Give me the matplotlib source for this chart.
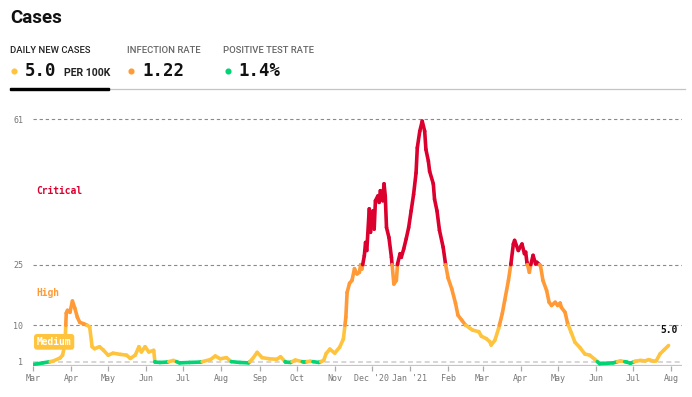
import matplotlib
matplotlib.use('Agg')
import matplotlib.pyplot as plt
import matplotlib.dates as mdates
from matplotlib.collections import LineCollection
from matplotlib.patches import Rectangle
from matplotlib.lines import Line2D
import numpy as np
from datetime import datetime

# daily new cases per 100k
dates = [
    '2020-03-01', '2020-03-09', '2020-03-17', '2020-03-23', '2020-03-25', '2020-03-27',
    '2020-03-28', '2020-03-29', '2020-03-31', '2020-04-02', '2020-04-04', '2020-04-06',
    '2020-04-08', '2020-04-11', '2020-04-14', '2020-04-16', '2020-04-18', '2020-04-20',
    '2020-04-24', '2020-04-27', '2020-05-01', '2020-05-05', '2020-05-11', '2020-05-16',
    '2020-05-19', '2020-05-23', '2020-05-26', '2020-05-28', '2020-05-31', '2020-06-03',
    '2020-06-07', '2020-06-08', '2020-06-12', '2020-06-18', '2020-06-23', '2020-06-28',
    '2020-07-06', '2020-07-15', '2020-07-23', '2020-07-27', '2020-07-31', '2020-08-05',
    '2020-08-09', '2020-08-16', '2020-08-23', '2020-08-26', '2020-08-30', '2020-09-03',
    '2020-09-09', '2020-09-15', '2020-09-18', '2020-09-22', '2020-09-26', '2020-09-30',
    '2020-10-07', '2020-10-12', '2020-10-19', '2020-10-23', '2020-10-25', '2020-10-28',
    '2020-11-01', '2020-11-05', '2020-11-08', '2020-11-10', '2020-11-11', '2020-11-13',
    '2020-11-15', '2020-11-17', '2020-11-19', '2020-11-21', '2020-11-22', '2020-11-23',
    '2020-11-25', '2020-11-26', '2020-11-27', '2020-11-29', '2020-11-30', '2020-12-02',
    '2020-12-03', '2020-12-04', '2020-12-06', '2020-12-07', '2020-12-08', '2020-12-10',
    '2020-12-11', '2020-12-12', '2020-12-13', '2020-12-15', '2020-12-17', '2020-12-19',
    '2020-12-21', '2020-12-22', '2020-12-24', '2020-12-25', '2020-12-27', '2020-12-29',
    '2020-12-31', '2021-01-02', '2021-01-04', '2021-01-06', '2021-01-07', '2021-01-09',
    '2021-01-11', '2021-01-13', '2021-01-14', '2021-01-16', '2021-01-17', '2021-01-20',
    '2021-01-21', '2021-01-23', '2021-01-25', '2021-01-28', '2021-01-30', '2021-02-01',
    '2021-02-04', '2021-02-07', '2021-02-09', '2021-02-12', '2021-02-15', '2021-02-19',
    '2021-02-21', '2021-02-26', '2021-02-28', '2021-03-04', '2021-03-07', '2021-03-08',
    '2021-03-11', '2021-03-14', '2021-03-17', '2021-03-19', '2021-03-22', '2021-03-24',
    '2021-03-26', '2021-03-27', '2021-03-30', '2021-04-02', '2021-04-04', '2021-04-05',
    '2021-04-06', '2021-04-08', '2021-04-09', '2021-04-11', '2021-04-13', '2021-04-14',
    '2021-04-17', '2021-04-19', '2021-04-22', '2021-04-24', '2021-04-26', '2021-04-29',
    '2021-05-01', '2021-05-03', '2021-05-04', '2021-05-07', '2021-05-09', '2021-05-12',
    '2021-05-15', '2021-05-19', '2021-05-23', '2021-05-27', '2021-05-31', '2021-06-04',
    '2021-06-10', '2021-06-15', '2021-06-21', '2021-06-26', '2021-06-29', '2021-07-03',
    '2021-07-07', '2021-07-11', '2021-07-14', '2021-07-18', '2021-07-20', '2021-07-23',
    '2021-07-26', '2021-07-30',
]
cases = [
    0.3, 0.7, 1.1, 1.9, 2.6, 5.5,
    13.0, 13.7, 13.2, 16.0, 14.2, 12.0,
    10.7, 10.4, 10.0, 9.6, 4.7, 4.2,
    4.7, 3.9, 2.6, 3.1, 2.8, 2.6,
    1.8, 2.6, 4.7, 3.4, 4.7, 3.4,
    3.8, 0.9, 0.8, 0.9, 1.3, 0.7,
    0.8, 0.9, 1.5, 2.4, 1.7, 2.0,
    1.0, 0.8, 0.7, 1.6, 3.3, 2.0,
    1.7, 1.6, 2.2, 0.9, 0.8, 1.4,
    0.9, 1.1, 0.8, 1.3, 3.0, 4.1,
    3.1, 4.6, 6.6, 12.0, 18.1, 20.4,
    21.1, 24.0, 22.7, 23.1, 25.0, 23.9,
    27.2, 30.5, 28.5, 38.8, 33.0, 38.3,
    33.8, 40.8, 42.0, 40.4, 43.3, 40.8,
    45.0, 42.0, 34.2, 31.7, 26.8, 20.2,
    21.1, 25.2, 27.7, 26.8, 28.9, 31.4,
    34.2, 38.3, 42.4, 47.7, 53.9, 58.0,
    60.5, 58.0, 53.5, 50.6, 48.1, 45.0,
    41.2, 38.3, 33.5, 29.3, 25.0, 21.7,
    19.0, 15.5, 12.5, 11.3, 10.1, 9.2,
    8.8, 8.4, 7.3, 6.7, 5.9, 5.1,
    6.3, 9.2, 12.9, 16.2, 21.1, 25.2,
    30.1, 31.0, 28.5, 30.1, 27.7, 28.1,
    25.6, 23.1, 24.8, 27.3, 25.2, 25.6,
    24.8, 21.1, 18.6, 15.7, 14.9, 15.7,
    14.9, 15.5, 14.4, 13.2, 10.5, 8.2,
    5.8, 4.5, 2.9, 2.6, 1.6, 0.5,
    0.6, 0.7, 1.2, 0.9, 0.6, 1.1,
    1.3, 1.2, 1.5, 1.1, 1.2, 2.9,
    3.8, 5.0,
]

levels = [1, 10, 25]
level_names = ['Low', 'Medium', 'High', 'Critical']
level_colors = ['#00d474', '#ffc43d', '#ff9a36', '#db002e']
grid_values = [1, 10, 25, 61]

month_ticks = ['2020-03-01', '2020-04-01', '2020-05-01', '2020-06-01', '2020-07-01',
               '2020-08-01', '2020-09-01', '2020-10-01', '2020-11-01', '2020-12-01',
               '2021-01-01', '2021-02-01', '2021-03-01', '2021-04-01', '2021-05-01',
               '2021-06-01', '2021-07-01', '2021-08-01']
month_labels = ['Mar', 'Apr', 'May', 'Jun', 'Jul', 'Aug', 'Sep', 'Oct', 'Nov', "Dec '20",
                "Jan '21", 'Feb', 'Mar', 'Apr', 'May', 'Jun', 'Jul', 'Aug']

W, H = 692, 397
MONO = 'DejaVu Sans Mono'
SANS = 'Roboto'


def fx(px):
    return px / W


def fy(py):
    return 1 - py / H


fig = plt.figure(figsize=(W / 100, H / 100), dpi=100)
fig.patch.set_facecolor('white')

# ---- header ----
fig.text(fx(10), fy(22.7), 'Cases', family=SANS, weight='bold', size=13.5, color='#111')
fig.text(fx(10), fy(53.3), 'DAILY NEW CASES', family=SANS, weight='medium', size=6.8, color='#222')
fig.text(fx(126.7), fy(53.3), 'INFECTION RATE', family=SANS, weight='medium', size=6.8, color='#666')
fig.text(fx(222.7), fy(53.3), 'POSITIVE TEST RATE', family=SANS, weight='medium', size=6.8, color='#666')

for px, col in [(14, level_colors[1]), (131, level_colors[2]), (228, level_colors[0])]:
    fig.add_artist(Line2D([fx(px)], [fy(70.5)], marker='o', ms=3.4, color=col,
                          transform=fig.transFigure))
fig.text(fx(25), fy(76), '5.0', family=MONO, weight='bold', size=12.5, color='#111')
fig.text(fx(64), fy(76), 'PER 100K', family=SANS, weight='bold', size=7.6, color='#222')
fig.text(fx(142), fy(76), '1.22', family=MONO, weight='bold', size=12.5, color='#111')
fig.text(fx(238), fy(76), '1.4%', family=MONO, weight='bold', size=12.5, color='#111')

fig.add_artist(Line2D([fx(10), fx(685)], [fy(89.3), fy(89.3)], lw=0.9, color='#c4c4c4',
                      transform=fig.transFigure, zorder=1))
fig.add_artist(Rectangle((fx(10), fy(90.3)), fx(99), 2.6 / H, color='black',
                         transform=fig.transFigure, zorder=3))

# ---- chart ----
ax = fig.add_axes([fx(33), fy(365.7), fx(649), (365.7 - 107) / H])
start = mdates.date2num(datetime(2020, 3, 1))
ax.set_xlim(start, start + 649 / 1.2317)
ax.set_ylim(0, 64)
for s in ax.spines.values():
    s.set_visible(False)

for g in grid_values:
    if g == 1:
        ax.axhline(g, color='#cfcfcf', lw=1.2, ls=(0, (3, 2)), zorder=1)
    else:
        ax.axhline(g, color='#8a8a8a', lw=0.8, ls=(0, (3, 2.5)), zorder=1)
ax.axhline(0, color='#c4c4c4', lw=1.6, zorder=1)

x = mdates.date2num([datetime.strptime(d, '%Y-%m-%d') for d in dates])
y = np.array(cases)

# split the line where it crosses a level so each piece gets one colour
segs, cols = [], []
for i in range(len(x) - 1):
    x0, y0, x1, y1 = x[i], y[i], x[i + 1], y[i + 1]
    pts = [(x0, y0)]
    cross = [t for t in levels if min(y0, y1) < t < max(y0, y1)]
    if y1 < y0:
        cross = cross[::-1]
    for t in cross:
        f = (t - y0) / (y1 - y0)
        pts.append((x0 + f * (x1 - x0), t))
    pts.append((x1, y1))
    for a, b in zip(pts[:-1], pts[1:]):
        segs.append([a, b])
        cols.append(level_colors[int(np.searchsorted(levels, (a[1] + b[1]) / 2))])

lc = LineCollection(segs, colors=cols, linewidths=2.6, capstyle='round', joinstyle='round', zorder=3)
ax.add_collection(lc)

# level labels
ytr = ax.get_yaxis_transform()
ax.text(0.005, 43.3, level_names[3], transform=ytr, family=MONO, weight='bold', size=6.9,
        color=level_colors[3], va='center')
ax.text(0.005, 17.9, level_names[2], transform=ytr, family=MONO, weight='bold', size=6.9,
        color=level_colors[2], va='center')
ax.text(0.006, 5.9, level_names[1], transform=ytr, family=MONO, weight='bold', size=6.9,
        color='white', va='center', zorder=5,
        bbox=dict(boxstyle='round,pad=0.3', fc=level_colors[1], ec='none'))

ax.annotate('%.1f' % y[-1], xy=(x[-1], y[-1]), xytext=(0, 11), textcoords='offset points',
            ha='center', va='center', family=MONO, weight='bold', size=6.9, color='#111')

ax.set_yticks(grid_values)
ax.set_yticklabels([str(g) for g in grid_values], family=MONO, size=6, color='#777')
ax.tick_params(axis='y', length=0, pad=7)

ax.set_xticks(mdates.date2num([datetime.strptime(d, '%Y-%m-%d') for d in month_ticks]))
ax.set_xticklabels(month_labels, family=MONO, size=6, color='#777')
ax.tick_params(axis='x', length=3.5, width=0.9, color='#aaa', pad=2.5)

fig.savefig('out.png', dpi=100, facecolor='white')
